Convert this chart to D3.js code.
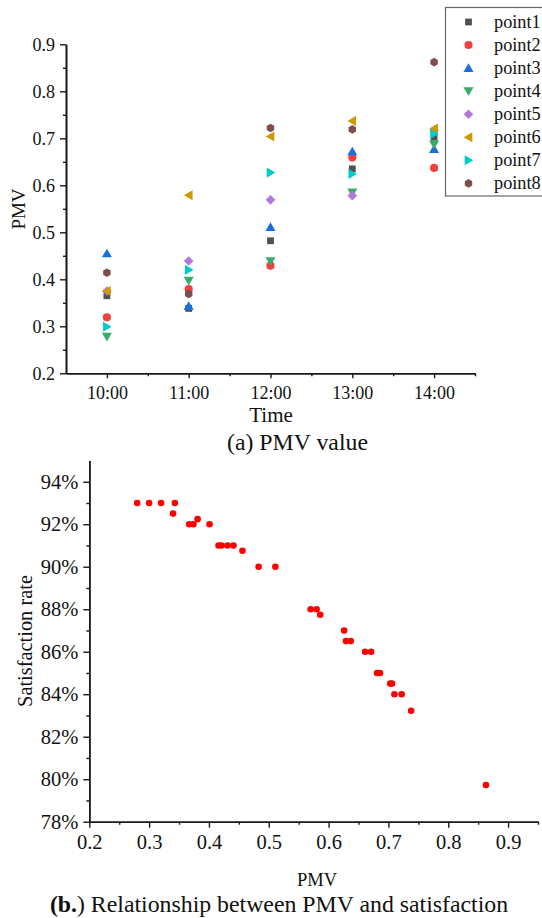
<!DOCTYPE html>
<html>
<head>
<meta charset="utf-8">
<script src="https://cdn.jsdelivr.net/npm/d3@7/dist/d3.min.js"></script>
<style>
  html, body { margin: 0; padding: 0; background: #fff; }
  svg { display: block; }
  text { font-family: "Liberation Serif", "Times New Roman", serif; fill: #111; }
</style>
</head>
<body>
<svg id="chart" width="542" height="918"></svg>
<script>
// ---------- Data: (a) PMV value ----------
const times = ["10:00", "11:00", "12:00", "13:00", "14:00"];
const timeHours = [10, 11, 12, 13, 14];
const seriesNames = ["point1", "point2", "point3", "point4", "point5", "point6", "point7", "point8"];
const point1 = [0.365, 0.338, 0.482, 0.635, 0.702];
const point2 = [0.319, 0.379, 0.429, 0.659, 0.637];
const point3 = [0.455, 0.343, 0.511, 0.672, 0.677];
const point4 = [0.278, 0.397, 0.439, 0.585, 0.687];
const point5 = [0.375, 0.439, 0.569, 0.578, 0.717];
const point6 = [0.375, 0.579, 0.704, 0.737, 0.721];
const point7 = [0.299, 0.420, 0.627, 0.624, 0.709];
const point8 = [0.414, 0.369, 0.722, 0.719, 0.862];
const pmvTicks = [0.2, 0.3, 0.4, 0.5, 0.6, 0.7, 0.8, 0.9];

// ---------- Data: (b) PMV vs satisfaction ----------
const pmvB = [0.280, 0.300, 0.320, 0.343, 0.340, 0.367, 0.374, 0.381, 0.401, 0.416, 0.421, 0.431, 0.441, 0.456, 0.483, 0.511,
              0.570, 0.580, 0.586, 0.626, 0.629, 0.637, 0.661, 0.671, 0.681, 0.686, 0.703, 0.706, 0.710, 0.722, 0.738, 0.863];
const satB = [93.0, 93.0, 93.0, 93.0, 92.5, 92.0, 92.0, 92.24, 92.0, 91.0, 91.0, 91.0, 91.0, 90.75, 90.0, 90.0,
              88.0, 88.0, 87.74, 87.0, 86.5, 86.5, 86.0, 86.0, 85.0, 85.0, 84.5, 84.5, 84.0, 84.0, 83.22, 79.73];
const satTicks = [78, 80, 82, 84, 86, 88, 90, 92, 94];
const pmvTicksB = [0.2, 0.3, 0.4, 0.5, 0.6, 0.7, 0.8, 0.9];

const seriesData = [point1, point2, point3, point4, point5, point6, point7, point8];
const colors = ["#515151", "#F14040", "#1A6FDF", "#37AD6B", "#B177DE", "#CC9900", "#00CBCC", "#7D4E4E"];
const shapes = ["square", "circle", "up", "down", "diamond", "left", "right", "hexagon"];

const svg = d3.select("#chart");

function symbolPath(shape) {
  const r = 4.3;
  switch (shape) {
    case "square": return d3.symbol(d3.symbolSquare, 46)();
    case "circle": return d3.symbol(d3.symbolCircle, 52)();
    case "up": { const h = 4.8; return `M0,${-h}L${h*1.05},${h*0.8}L${-h*1.05},${h*0.8}Z`; }
    case "down": { const h = 4.8; return `M0,${h}L${h*1.05},${-h*0.8}L${-h*1.05},${-h*0.8}Z`; }
    case "left": { const h = 4.8; return `M${-h},0L${h*0.8},${-h*1.05}L${h*0.8},${h*1.05}Z`; }
    case "right": { const h = 4.8; return `M${h},0L${-h*0.8},${-h*1.05}L${-h*0.8},${h*1.05}Z`; }
    case "diamond": { const d = 4.8; return `M0,${-d}L${d},0L0,${d}L${-d},0Z`; }
    case "hexagon": {
      const pts = d3.range(6).map(k => { const a = Math.PI / 6 + k * Math.PI / 3; return [r * Math.cos(a), r * Math.sin(a)]; });
      return "M" + pts.map(p => p.join(",")).join("L") + "Z";
    }
  }
}

function styleAxis(g, fontSize) {
  g.select(".domain").attr("stroke", "#1a1a1a").attr("stroke-width", 1.6);
  g.selectAll(".tick line").attr("stroke", "#1a1a1a").attr("stroke-width", 1.4);
  g.selectAll(".tick text").attr("font-size", fontSize).attr("fill", "#111")
    .attr("font-family", "Liberation Serif, Times New Roman, serif");
}

// ================= Chart (a) =================
const xA = d3.scaleLinear().domain([9.5, 14.5]).range([66, 475]);
const yA = d3.scaleLinear().domain([0.2, 0.9]).range([373.3, 44.3]);

// minor ticks
svg.append("g").attr("transform", "translate(0,373.3)")
  .call(d3.axisBottom(xA).tickValues([10.5, 11.5, 12.5, 13.5, 14.5]).tickSize(3).tickSizeOuter(0).tickFormat(""))
  .call(g => styleAxis(g, 18));
svg.append("g").attr("transform", "translate(66,0)")
  .call(d3.axisLeft(yA).tickValues(d3.range(0.25, 0.9, 0.1)).tickSize(3).tickSizeOuter(0).tickFormat(""))
  .call(g => styleAxis(g, 18));
// major
svg.append("g").attr("transform", "translate(0,373.3)")
  .call(d3.axisBottom(xA).tickValues(timeHours).tickFormat((d, i) => times[i]).tickSize(5).tickPadding(8).tickSizeOuter(0))
  .call(g => styleAxis(g, 18));
svg.append("g").attr("transform", "translate(66,0)")
  .call(d3.axisLeft(yA).tickValues(pmvTicks).tickFormat(d3.format(".1f")).tickSize(6).tickPadding(5).tickSizeOuter(0))
  .call(g => styleAxis(g, 18));

svg.append("text").attr("transform", "translate(25,209) rotate(-90)")
  .attr("text-anchor", "middle").attr("font-size", 19).text("PMV");
svg.append("text").attr("x", 271).attr("y", 422).attr("text-anchor", "middle").attr("font-size", 21).text("Time");
svg.append("text").attr("x", 297.5).attr("y", 450).attr("text-anchor", "middle").attr("font-size", 23.8).text("(a) PMV value");

// points
seriesData.forEach((vals, si) => {
  svg.append("g").selectAll("path").data(vals).join("path")
    .attr("d", symbolPath(shapes[si]))
    .attr("transform", (d, i) => `translate(${xA(timeHours[i])},${yA(d)})`)
    .attr("fill", colors[si]);
});

// legend
const lg = svg.append("g");
lg.append("rect").attr("x", 445.5).attr("y", 7.5).attr("width", 120).attr("height", 188.5)
  .attr("fill", "#fff").attr("stroke", "#666").attr("stroke-width", 1.2);
seriesNames.forEach((name, i) => {
  const cy = 22 + i * 23.05;
  lg.append("path").attr("d", symbolPath(shapes[i])).attr("transform", `translate(468.5,${cy})`).attr("fill", colors[i]);
  lg.append("text").attr("x", 494).attr("y", cy + 6).attr("font-size", 18.3).text(name);
});

// ================= Chart (b) =================
const xB = d3.scaleLinear().domain([0.2, 0.95]).range([89.3, 538]);
const yB = d3.scaleLinear().domain([78, 95]).range([821.7, 460.5]);

svg.append("g").attr("transform", "translate(0,821.7)")
  .call(d3.axisBottom(xB).tickValues(d3.range(0.25, 0.96, 0.1)).tickSize(3).tickSizeOuter(0).tickFormat(""))
  .call(g => styleAxis(g, 20.5));
svg.append("g").attr("transform", "translate(89.3,0)")
  .call(d3.axisLeft(yB).tickValues(d3.range(79, 95, 2)).tickSize(3).tickSizeOuter(0).tickFormat(""))
  .call(g => styleAxis(g, 20.5));
svg.append("g").attr("transform", "translate(0,821.7)")
  .call(d3.axisBottom(xB).tickValues(pmvTicksB).tickFormat(d3.format(".1f")).tickSize(6).tickPadding(6.4).tickSizeOuter(0))
  .call(g => styleAxis(g, 20.5));
svg.append("g").attr("transform", "translate(89.3,0)")
  .call(d3.axisLeft(yB).tickValues(satTicks).tickFormat(d => d + "%").tickSize(6).tickPadding(5).tickSizeOuter(0))
  .call(g => styleAxis(g, 20.5));

svg.append("text").attr("transform", "translate(32,641) rotate(-90)")
  .attr("text-anchor", "middle").attr("font-size", 20.4).text("Satisfaction rate");
svg.append("text").attr("x", 317).attr("y", 886).attr("text-anchor", "middle").attr("font-size", 18.5).text("PMV");
const cap = svg.append("text").attr("x", 279).attr("y", 912).attr("text-anchor", "middle").attr("font-size", 23.8);
cap.append("tspan").attr("font-weight", "bold").text("(b.");
cap.append("tspan").text(") Relationship between PMV and satisfaction");

svg.append("g").selectAll("circle").data(pmvB).join("circle")
  .attr("cx", d => xB(d)).attr("cy", (d, i) => yB(satB[i])).attr("r", 3.3).attr("fill", "#FF0000");
</script>
</body>
</html>
